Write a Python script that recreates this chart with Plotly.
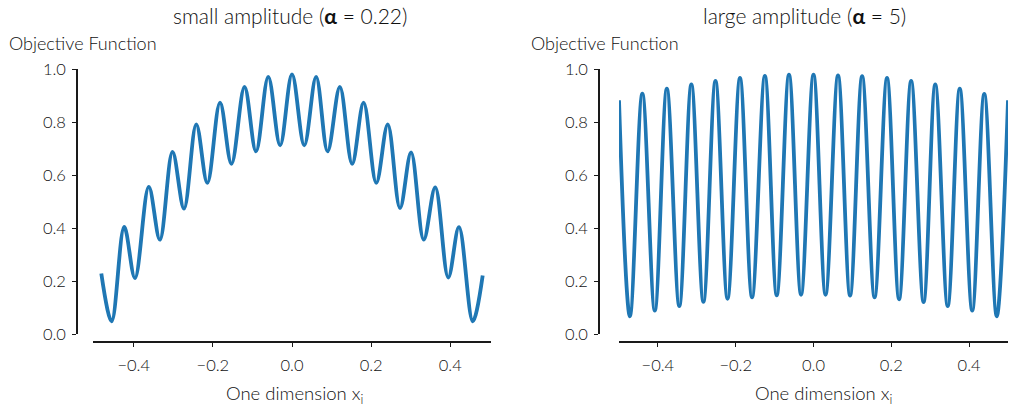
import plotly.graph_objects as go

W, H = 1009, 408

# ---- data ----
small_x = [-0.482, -0.456, -0.424, -0.397, -0.362, -0.334, -0.302, -0.273, -0.242, -0.214, -0.182,
           -0.153, -0.120, -0.091, -0.060, -0.030, 0.000, 0.031, 0.061, 0.090, 0.121, 0.152,
           0.181, 0.213, 0.242, 0.273, 0.301, 0.333, 0.362, 0.395, 0.422, 0.457, 0.482]
small_y = [0.228, 0.048, 0.404, 0.211, 0.555, 0.356, 0.687, 0.473, 0.791, 0.570, 0.873,
           0.642, 0.932, 0.689, 0.970, 0.712, 0.980, 0.712, 0.970, 0.689, 0.932, 0.642,
           0.873, 0.570, 0.791, 0.475, 0.685, 0.356, 0.553, 0.213, 0.403, 0.048, 0.221]

large_x = [-0.500, -0.472, -0.440, -0.408, -0.377, -0.345, -0.314, -0.283, -0.252, -0.221, -0.189,
           -0.158, -0.125, -0.0945, -0.063, -0.032, 0.000, 0.031, 0.063, 0.094, 0.125, 0.157,
           0.189, 0.220, 0.251, 0.283, 0.313, 0.345, 0.376, 0.408, 0.439, 0.471, 0.500]
large_y = [0.882, 0.067, 0.907, 0.088, 0.926, 0.105, 0.942, 0.121, 0.955, 0.133, 0.966,
           0.138, 0.974, 0.146, 0.979, 0.148, 0.979, 0.148, 0.976, 0.145, 0.973, 0.138,
           0.966, 0.131, 0.955, 0.120, 0.942, 0.105, 0.926, 0.088, 0.906, 0.067, 0.882]

x_tickvals = [-0.4, -0.2, 0.0, 0.2, 0.4]
x_ticktext = ["\u22120.4", "\u22120.2", "0.0", "0.2", "0.4"]
y_tickvals = [0.0, 0.2, 0.4, 0.6, 0.8, 1.0]
y_ticktext = ["0.0", "0.2", "0.4", "0.6", "0.8", "1.0"]

titles = ["small amplitude (<b>\u03b1</b> = 0.22)", "large amplitude (<b>\u03b1</b> = 5)"]
ylabel = "Objective Function"
xlabel = "One dimension x<sub>i</sub>"

# ---- styling ----
FONT = "Lato, 'Open Sans', sans-serif"
TXT = "#111111"
AX = "#1a1a1a"
LINE = "#1f77b4"
WT = 300

def px(v):
    return v / W

def py(v):
    return 1 - v / H

fig = go.Figure()
fig.add_trace(go.Scatter(x=small_x, y=small_y, mode="lines", xaxis="x", yaxis="y",
                         line=dict(color=LINE, width=3.8, shape="spline", smoothing=1),
                         showlegend=False, hoverinfo="skip"))
fig.add_trace(go.Scatter(x=large_x, y=large_y, mode="lines", xaxis="x2", yaxis="y2",
                         line=dict(color=LINE, width=3.8, shape="spline", smoothing=1),
                         showlegend=False, hoverinfo="skip"))

common_axis = dict(showline=True, linecolor=AX, linewidth=1.6, ticks="outside", ticklen=4,
                   tickwidth=1.4, tickcolor=AX, showgrid=False, zeroline=False,
                   automargin=False,
                   tickfont=dict(family=FONT, size=16.5, color=TXT, weight=WT), anchor="free")

ydom = [py(334), py(69)]

fig.update_layout(
    width=W, height=H,
    margin=dict(l=0, r=0, t=0, b=0, autoexpand=False),
    paper_bgcolor="white", plot_bgcolor="white",
    font=dict(family=FONT, color=TXT),
    xaxis=dict(domain=[px(93), px(491)], range=[-0.503, 0.503], position=py(342),
               tickvals=x_tickvals, ticktext=x_ticktext, ticklabelstandoff=4, **common_axis),
    yaxis=dict(domain=ydom, range=[0, 1], position=px(77),
               tickvals=y_tickvals, ticktext=y_ticktext, ticklabelstandoff=3, **common_axis),
    xaxis2=dict(domain=[px(619), px(1008)], range=[-0.5, 0.5], position=py(342),
                tickvals=x_tickvals, ticktext=x_ticktext, ticklabelstandoff=4, **common_axis),
    yaxis2=dict(domain=ydom, range=[0, 1], position=px(599),
                tickvals=y_tickvals, ticktext=y_ticktext, ticklabelstandoff=3, **common_axis),
)

ann = []
for cx, t in zip([290, 804.5], titles):
    ann.append(dict(x=px(cx), y=py(16), xref="paper", yref="paper", text=t, showarrow=False,
                    xanchor="center", yanchor="middle",
                    font=dict(family=FONT, size=21, color=TXT, weight=WT)))
for lx in [7, 529]:
    ann.append(dict(x=px(lx), y=py(43), xref="paper", yref="paper", text=ylabel, showarrow=False,
                    xanchor="left", yanchor="middle",
                    font=dict(family=FONT, size=18, color=TXT, weight=WT)))
for cx in [294, 823]:
    ann.append(dict(x=px(cx), y=py(394), xref="paper", yref="paper", text=xlabel, showarrow=False,
                    xanchor="center", yanchor="middle",
                    font=dict(family=FONT, size=18.5, color=TXT, weight=WT)))
fig.update_layout(annotations=ann)

fig.write_html("out.html", config={"displayModeBar": False},
               post_script="document.body.style.margin='0px';")
